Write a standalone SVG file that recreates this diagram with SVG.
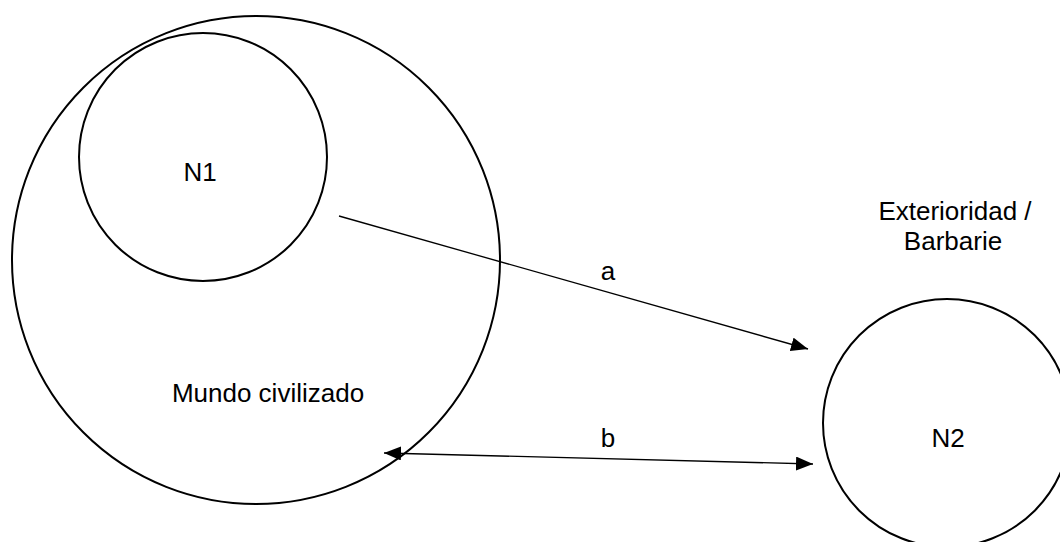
<svg xmlns="http://www.w3.org/2000/svg" width="1060" height="542" viewBox="0 0 1060 542">
<style>
.node{fill:none;stroke:#000;stroke-width:2}
.lbl{font-family:"Liberation Sans",Arial,sans-serif;font-size:26px;fill:#000;text-anchor:middle}
.edge{stroke:#000;stroke-width:1.3;fill:none}
</style>
<defs>
<marker id="arr" markerUnits="userSpaceOnUse" markerWidth="17" markerHeight="14" refX="17" refY="7" orient="auto-start-reverse">
<path d="M0,0 L17,7 L0,14 z" fill="#000"/>
</marker>
</defs>
<rect width="1060" height="542" fill="#fff"/>
<g id="mundo">
<circle class="node" cx="256" cy="260" r="244"/>
<text class="lbl" x="268" y="402">Mundo civilizado</text>
</g>
<g id="n1">
<circle class="node" cx="203" cy="157" r="124"/>
<text class="lbl" x="200" y="181">N1</text>
</g>
<g id="n2">
<circle class="node" cx="947" cy="423" r="124"/>
<text class="lbl" x="948" y="447">N2</text>
</g>
<g id="exterioridad">
<text class="lbl" x="955" y="220">Exterioridad /</text>
<text class="lbl" x="953" y="250">Barbarie</text>
</g>
<g id="connectors">
<line class="edge" x1="339" y1="216" x2="808" y2="349" marker-end="url(#arr)"/>
<text class="lbl" x="608" y="280">a</text>
<line class="edge" x1="384" y1="453" x2="813" y2="464" marker-start="url(#arr)" marker-end="url(#arr)"/>
<text class="lbl" x="608" y="447">b</text>
</g>
</svg>
